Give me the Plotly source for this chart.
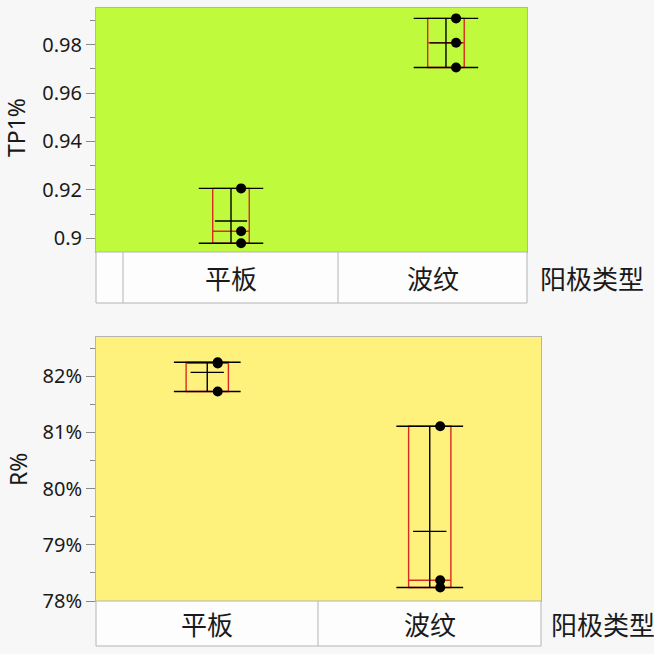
import plotly.graph_objects as go

# data
categories = ['平板', '波纹']
tp1_flat = [0.9206, 0.9029, 0.8979]
tp1_wave = [0.9909, 0.9808, 0.9706]
r_flat = [82.25, 82.23, 81.73]
r_wave = [81.11, 78.37, 78.24]

tp1_tickvals = [0.90, 0.92, 0.94, 0.96, 0.98]
tp1_ticktext = ['0.9', '0.92', '0.94', '0.96', '0.98']
r_tickvals = [78, 79, 80, 81, 82]
r_ticktext = ['78%', '79%', '80%', '81%', '82%']

W = 654
H = 667  # the capture comes out slightly squeezed vertically, so the page is made a bit taller
FONT = 'Noto Sans'
CJK = 'Noto Sans CJK SC'
RED = '#d92a23'
GRID_LINE = '#b4b4b4'


def px(p):
    return p / 654


def py(p):
    return 1 - p / 654


def add_group(fig, pos, values, xa, ya, box_w):
    mn, mx = min(values), max(values)
    mean = sum(values) / len(values)
    fig.add_trace(go.Box(x=[pos] * len(values), y=values, xaxis=xa, yaxis=ya,
                         width=box_w, boxpoints=False, quartilemethod='exclusive',
                         whiskerwidth=0, fillcolor='rgba(0,0,0,0)',
                         line=dict(color=RED, width=1.4), hoverinfo='y'))
    hw, mw = 0.15, 0.075
    xs = [pos - hw, pos + hw, None, pos - hw, pos + hw, None, pos, pos, None, pos - mw, pos + mw]
    ys = [mx, mx, None, mn, mn, None, mn, mx, None, mean, mean]
    fig.add_trace(go.Scatter(x=xs, y=ys, xaxis=xa, yaxis=ya, mode='lines',
                             line=dict(color='black', width=1.4), hoverinfo='skip'))
    fig.add_trace(go.Scatter(x=[pos + 0.047] * len(values), y=values, xaxis=xa, yaxis=ya,
                             mode='markers', marker=dict(color='black', size=10)))


fig = go.Figure()
add_group(fig, 0, tp1_flat, 'x', 'y', 0.17)
add_group(fig, 1, tp1_wave, 'x', 'y', 0.17)
add_group(fig, 0, r_flat, 'x2', 'y2', 0.19)
add_group(fig, 1, r_wave, 'x2', 'y2', 0.19)

common_x = dict(showticklabels=False, showgrid=False, zeroline=False, showline=True,
                mirror=True, linecolor=GRID_LINE, linewidth=1, ticks='')
common_y = dict(showgrid=False, zeroline=False, showline=True, mirror=True,
                linecolor=GRID_LINE, linewidth=1, ticks='outside', ticklen=9,
                tickcolor='#8a8a8a', tickwidth=1,
                tickfont=dict(family=FONT, size=20, color='#1a1a1a'))

fig.update_layout(
    width=W, height=H, showlegend=False,
    margin=dict(l=0, r=0, t=0, b=0),
    paper_bgcolor='#f7f7f7', plot_bgcolor='rgba(0,0,0,0)',
    xaxis=dict(domain=[px(96), px(527)], range=[-0.628, 1.377], anchor='y', **common_x),
    yaxis=dict(domain=[py(252), py(8)], range=[0.8943, 0.9952], anchor='x',
               tickvals=tp1_tickvals, ticktext=tp1_ticktext,
               minor=dict(ticks='outside', ticklen=5, dtick=0.01, tick0=0.9,
                          tickcolor='#8a8a8a'),
               **common_y),
    xaxis2=dict(domain=[px(96), px(541)], range=[-0.5, 1.5], anchor='y2', **common_x),
    yaxis2=dict(domain=[py(601), py(337)], range=[78.0, 82.70], anchor='x2',
                tickvals=r_tickvals, ticktext=r_ticktext,
                minor=dict(ticks='outside', ticklen=5, dtick=0.5, tick0=78,
                           tickcolor='#8a8a8a'),
                **common_y),
)

shapes = []
# panel backgrounds
shapes.append(dict(type='rect', xref='x domain', yref='y domain', x0=0, x1=1, y0=0, y1=1,
                   fillcolor='#c0fa3c', line=dict(width=0), layer='below'))
shapes.append(dict(type='rect', xref='x2 domain', yref='y2 domain', x0=0, x1=1, y0=0, y1=1,
                   fillcolor='#fff27c', line=dict(width=0), layer='below'))
# category cells under each panel
cells = [
    (252, 303, [96, 123, 338, 527]),
    (601, 646, [96, 318, 541]),
]
for y0, y1, edges in cells:
    shapes.append(dict(type='rect', xref='paper', yref='paper', x0=px(edges[0]), x1=px(edges[-1]),
                       y0=py(y1), y1=py(y0), fillcolor='#fdfdfd',
                       line=dict(color=GRID_LINE, width=1)))
    for e in edges[1:-1]:
        shapes.append(dict(type='line', xref='paper', yref='paper', x0=px(e), x1=px(e),
                           y0=py(y1), y1=py(y0), line=dict(color=GRID_LINE, width=1)))
fig.update_layout(shapes=shapes)

cjk_font = dict(family=CJK, size=26, color='#1a1a1a')
annotations = [
    dict(text=categories[0], x=px(230.5), y=py(277.5)),
    dict(text=categories[1], x=px(432.5), y=py(277.5)),
    dict(text=categories[0], x=px(207), y=py(623)),
    dict(text=categories[1], x=px(430), y=py(623)),
]
for a in annotations:
    a.update(xref='paper', yref='paper', showarrow=False, font=cjk_font,
             xanchor='center', yanchor='middle')
annotations += [
    dict(text='阳极类型', x=px(538), y=py(277.5), xanchor='left', yanchor='middle',
         xref='paper', yref='paper', showarrow=False, font=cjk_font),
    dict(text='阳极类型', x=px(549), y=py(623), xanchor='left', yanchor='middle',
         xref='paper', yref='paper', showarrow=False, font=cjk_font),
    dict(text='TP1%', x=px(16), y=py(128), textangle=-90, xanchor='center', yanchor='middle',
         xref='paper', yref='paper', showarrow=False,
         font=dict(family=FONT, size=23, color='#1a1a1a')),
    dict(text='R%', x=px(18), y=py(470), textangle=-90, xanchor='center', yanchor='middle',
         xref='paper', yref='paper', showarrow=False,
         font=dict(family=FONT, size=23, color='#1a1a1a')),
]
fig.update_layout(annotations=annotations)

# drop the browser's default body margin so the figure starts at the window corner
fig.write_html('out.html', config={'displayModeBar': False},
               post_script="document.body.style.margin='0';")
